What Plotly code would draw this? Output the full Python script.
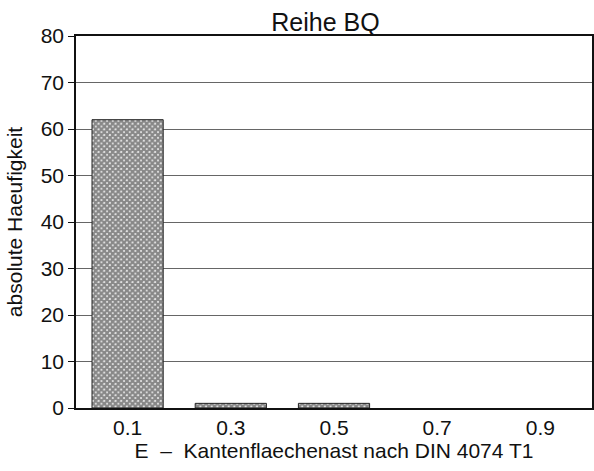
import plotly.graph_objects as go

categories = ["0.1", "0.3", "0.5", "0.7", "0.9"]
counts = [62, 1, 1, 0, 0]
y_ticks = [0, 10, 20, 30, 40, 50, 60, 70, 80]

FONT = "Liberation Sans, Arial, sans-serif"

fig = go.Figure()
fig.add_trace(go.Bar(
    x=categories,
    y=counts,
    width=0.69,
    marker=dict(
        color="white",
        line=dict(color="#222", width=[1 if v > 0 else 0 for v in counts]),
        pattern=dict(shape="x", fgcolor="#111", bgcolor="white", size=4, solidity=0.85),
    ),
))

fig.update_layout(
    width=594, height=471,
    margin=dict(l=76, r=2, t=36, b=63),
    paper_bgcolor="white", plot_bgcolor="white",
    showlegend=False,
    font=dict(family=FONT, size=22, color="#111"),
    title=dict(text="Reihe BQ", x=0.548, xanchor="center", y=0.953, yanchor="middle",
               font=dict(family=FONT, size=25, color="#111")),
    xaxis=dict(
        type="category", automargin=False,
        showline=True, linecolor="#111", linewidth=2, mirror=True,
        ticks="", showgrid=False,
        tickfont=dict(size=21),
        title=dict(text="E  –  Kantenflaechenast nach DIN 4074 T1", font=dict(size=21), standoff=2),
    ),
    yaxis=dict(
        range=[0, 80], tickvals=y_ticks, automargin=False,
        showline=True, linecolor="#111", linewidth=1.5, mirror=True,
        ticks="outside", ticklen=6, tickcolor="#111",
        showgrid=True, gridcolor="#666", gridwidth=1,
        tickfont=dict(size=21),
        title=dict(text="absolute Haeufigkeit", font=dict(size=21), standoff=12),
    ),
    bargap=0.3,
)

fig.write_html("out.html", config={"displayModeBar": False},
               post_script="document.body.style.margin='0';")
